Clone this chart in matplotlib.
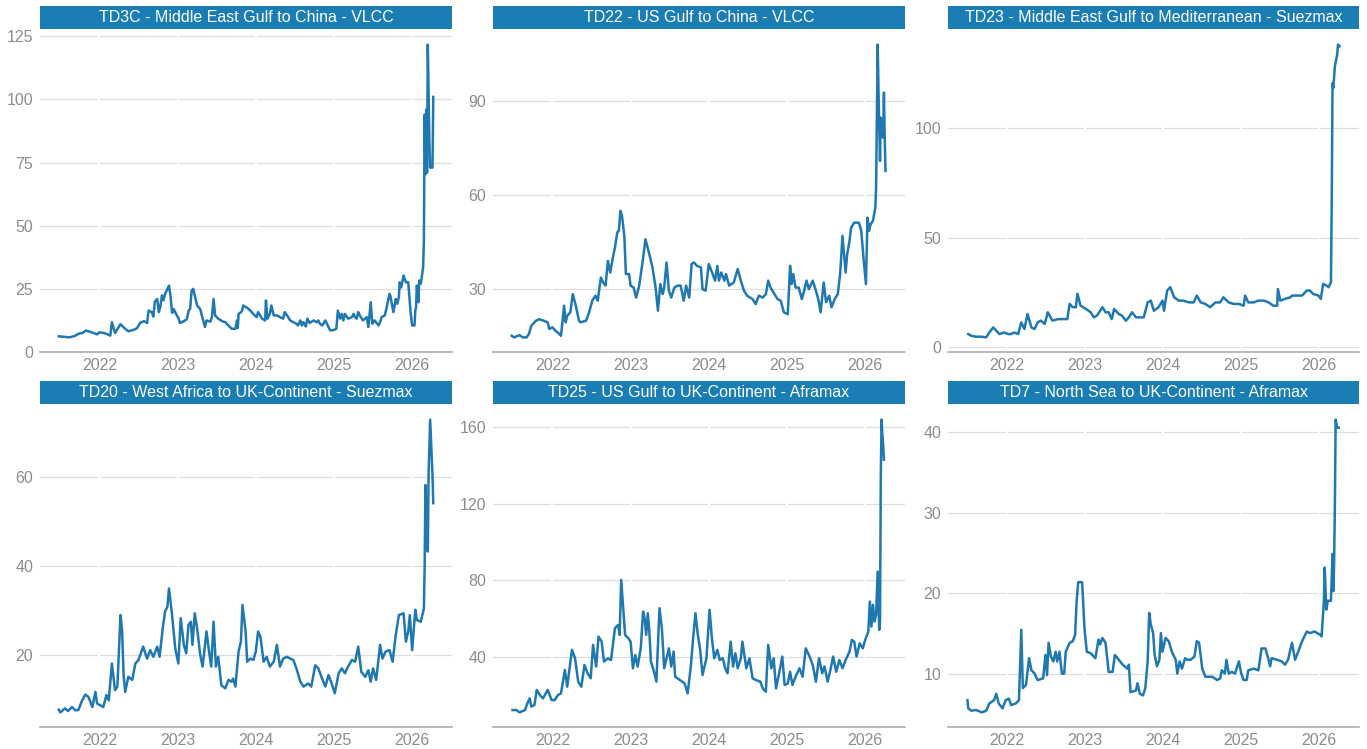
import matplotlib
matplotlib.use("Agg")
import matplotlib.pyplot as plt

plt.rcParams['font.family'] = ['Liberation Sans', 'DejaVu Sans']

titles = [
    "TD3C - Middle East Gulf to China - VLCC",
    "TD22 - US Gulf to China - VLCC",
    "TD23 - Middle East Gulf to Mediterranean - Suezmax",
    "TD20 - West Africa to UK-Continent - Suezmax",
    "TD25 - US Gulf to UK-Continent - Aframax",
    "TD7 - North Sea to UK-Continent - Aframax",
]

years = [2022, 2023, 2024, 2025, 2026]

td3c_t = [2021.48, 2021.55, 2021.62, 2021.68, 2021.74, 2021.78, 2021.83, 2021.9, 2021.97, 2022.0,
          2022.06, 2022.12, 2022.14, 2022.16, 2022.2, 2022.27, 2022.33, 2022.37, 2022.44, 2022.48,
          2022.52, 2022.57, 2022.61, 2022.63, 2022.67, 2022.69, 2022.71, 2022.74, 2022.76, 2022.78,
          2022.8, 2022.82, 2022.84, 2022.89, 2022.91, 2022.93, 2022.95, 2022.99, 2023.01, 2023.03,
          2023.08, 2023.12, 2023.14, 2023.16, 2023.18, 2023.2, 2023.25, 2023.29, 2023.31, 2023.35,
          2023.37, 2023.42, 2023.44, 2023.46, 2023.48, 2023.52, 2023.57, 2023.61, 2023.65, 2023.69,
          2023.74, 2023.76, 2023.77, 2023.78, 2023.82, 2023.84, 2023.89, 2023.93, 2023.97, 2024.01,
          2024.03, 2024.08, 2024.12, 2024.13, 2024.15, 2024.18, 2024.2, 2024.23, 2024.27, 2024.31,
          2024.35, 2024.37, 2024.4, 2024.44, 2024.48, 2024.52, 2024.54, 2024.57, 2024.59, 2024.61,
          2024.64, 2024.66, 2024.69, 2024.74, 2024.78, 2024.8, 2024.82, 2024.85, 2024.89, 2024.93,
          2024.95, 2024.99, 2025.03, 2025.05, 2025.08, 2025.1, 2025.12, 2025.14, 2025.18, 2025.23,
          2025.25, 2025.27, 2025.29, 2025.31, 2025.33, 2025.37, 2025.42, 2025.44, 2025.47, 2025.49,
          2025.52, 2025.57, 2025.59, 2025.61, 2025.65, 2025.67, 2025.71, 2025.72, 2025.76, 2025.79,
          2025.81, 2025.83, 2025.84, 2025.86, 2025.89, 2025.92, 2025.95, 2025.96, 2025.98, 2026.0,
          2026.03, 2026.04, 2026.05, 2026.06, 2026.08, 2026.09, 2026.11, 2026.12, 2026.14, 2026.15,
          2026.16, 2026.17, 2026.18, 2026.19, 2026.2, 2026.22, 2026.23, 2026.26, 2026.27]
td3c_v = [6.2, 6.0, 5.8, 6.3, 7.3, 7.5, 8.5, 7.8, 7.0, 7.8,
          7.5, 6.8, 6.5, 11.8, 7.5, 11.0, 9.2, 8.2, 8.8, 9.4,
          11.5, 12.2, 11.5, 16.4, 15.8, 14.0, 20.0, 21.0, 15.8, 18.0,
          22.4, 20.5, 23.0, 26.3, 22.0, 15.5, 17.0, 14.5, 13.5, 11.5,
          12.2, 13.0, 16.4, 17.0, 24.3, 25.0, 18.4, 17.0, 14.5, 9.9,
          12.5, 12.0, 14.0, 21.0, 14.5, 13.2, 12.2, 11.8, 10.5, 9.2,
          9.2, 12.5, 9.5, 15.1, 16.0, 18.4, 17.5, 16.4, 15.0, 13.8,
          15.8, 13.2, 12.5, 20.4, 13.2, 15.1, 18.4, 14.5, 14.5, 13.8,
          13.2, 15.8, 14.5, 12.5, 11.8, 11.2, 10.5, 12.5, 10.5, 11.8,
          10.1, 13.2, 11.5, 12.5, 11.8, 12.5, 11.2, 10.5, 12.5, 9.9,
          8.6, 8.6, 9.2, 16.4, 13.2, 15.1, 12.5, 15.1, 13.2, 13.8,
          15.1, 13.8, 13.2, 15.8, 14.5, 12.5, 13.8, 9.9, 19.7, 11.2,
          12.5, 10.5, 11.8, 13.8, 14.5, 17.1, 23.0, 22.4, 15.8, 21.0,
          19.1, 21.7, 27.6, 25.6, 30.3, 27.6, 27.6, 23.7, 15.8, 10.5,
          10.5, 16.4, 17.8, 26.3, 19.7, 28.3, 27.0, 29.0, 33.5, 44.0,
          94.0, 70.4, 96.0, 71.0, 121.7, 83.6, 73.0, 73.0, 101.0]

td22_t = [2021.48, 2021.51, 2021.58, 2021.62, 2021.67, 2021.7, 2021.73, 2021.79, 2021.83, 2021.89,
          2021.94, 2021.96, 2022.0, 2022.04, 2022.09, 2022.11, 2022.15, 2022.17, 2022.19, 2022.23,
          2022.26, 2022.3, 2022.34, 2022.36, 2022.43, 2022.47, 2022.51, 2022.55, 2022.58, 2022.62,
          2022.65, 2022.68, 2022.71, 2022.74, 2022.77, 2022.8, 2022.83, 2022.85, 2022.87, 2022.89,
          2022.92, 2022.94, 2022.98, 2023.0, 2023.04, 2023.07, 2023.11, 2023.15, 2023.19, 2023.24,
          2023.28, 2023.32, 2023.35, 2023.38, 2023.41, 2023.43, 2023.46, 2023.49, 2023.52, 2023.56,
          2023.6, 2023.64, 2023.68, 2023.71, 2023.75, 2023.78, 2023.81, 2023.85, 2023.9, 2023.92,
          2023.96, 2024.0, 2024.05, 2024.08, 2024.11, 2024.13, 2024.16, 2024.2, 2024.22, 2024.26,
          2024.32, 2024.37, 2024.41, 2024.45, 2024.49, 2024.56, 2024.6, 2024.64, 2024.69, 2024.73,
          2024.76, 2024.79, 2024.84, 2024.88, 2024.92, 2024.96, 2025.01, 2025.04, 2025.06, 2025.08,
          2025.11, 2025.15, 2025.19, 2025.22, 2025.25, 2025.28, 2025.33, 2025.37, 2025.4, 2025.43,
          2025.47, 2025.5, 2025.54, 2025.57, 2025.61, 2025.65, 2025.68, 2025.71, 2025.75, 2025.77,
          2025.8, 2025.82, 2025.86, 2025.92, 2025.95, 2025.98, 2026.01, 2026.03, 2026.05, 2026.07,
          2026.1, 2026.13, 2026.14, 2026.155, 2026.16, 2026.175, 2026.19, 2026.2, 2026.21, 2026.23,
          2026.24, 2026.25, 2026.26]
td22_v = [15.1, 14.6, 15.3, 14.6, 14.6, 15.7, 18.3, 19.9, 20.4, 19.9,
          19.4, 17.3, 17.8, 16.7, 15.7, 15.1, 24.7, 19.4, 21.5, 22.6,
          28.4, 24.7, 19.9, 19.4, 19.9, 22.6, 26.3, 27.9, 26.3, 33.7,
          32.1, 31.1, 39.0, 35.3, 39.6, 43.3, 48.1, 48.6, 55.0, 53.4,
          47.0, 34.8, 34.8, 31.1, 30.5, 27.3, 31.1, 38.0, 45.9, 41.1,
          36.9, 30.5, 23.1, 31.6, 28.4, 30.5, 38.5, 29.5, 27.3, 30.5,
          31.1, 31.1, 26.3, 31.1, 27.3, 38.0, 38.5, 37.4, 36.9, 30.0,
          29.5, 38.0, 34.8, 32.7, 37.4, 32.7, 35.3, 32.7, 34.8, 31.1,
          32.1, 36.4, 32.7, 29.5, 27.9, 26.8, 25.2, 27.9, 27.3, 28.4,
          32.7, 30.5, 28.4, 26.8, 26.3, 22.6, 22.0, 37.4, 31.6, 34.8,
          30.5, 30.5, 26.8, 29.5, 32.7, 30.0, 32.7, 29.5, 26.8, 22.6,
          32.1, 25.8, 27.9, 24.2, 26.8, 28.4, 34.8, 47.0, 35.3, 41.1,
          45.4, 49.6, 51.2, 51.2, 48.6, 39.6, 31.6, 52.8, 48.6, 50.7,
          51.8, 56.0, 62.4, 95.3, 108.0, 88.0, 70.9, 84.7, 81.5, 78.3,
          92.7, 78.3, 67.7]

td23_t = [2021.5, 2021.54, 2021.6, 2021.67, 2021.73, 2021.77, 2021.82, 2021.86, 2021.9, 2021.96,
          2022.01, 2022.05, 2022.09, 2022.14, 2022.18, 2022.22, 2022.26, 2022.31, 2022.35, 2022.39,
          2022.43, 2022.48, 2022.52, 2022.58, 2022.65, 2022.73, 2022.77, 2022.8, 2022.84, 2022.88,
          2022.9, 2022.94, 2023.01, 2023.07, 2023.11, 2023.15, 2023.22, 2023.26, 2023.3, 2023.34,
          2023.37, 2023.43, 2023.47, 2023.52, 2023.56, 2023.6, 2023.65, 2023.71, 2023.75, 2023.8,
          2023.84, 2023.88, 2023.94, 2023.99, 2024.01, 2024.05, 2024.09, 2024.14, 2024.2, 2024.26,
          2024.33, 2024.39, 2024.43, 2024.48, 2024.54, 2024.6, 2024.67, 2024.73, 2024.77, 2024.84,
          2024.9, 2024.97, 2025.03, 2025.05, 2025.09, 2025.16, 2025.22, 2025.29, 2025.35, 2025.41,
          2025.46, 2025.47, 2025.5, 2025.56, 2025.63, 2025.65, 2025.71, 2025.78, 2025.84, 2025.88,
          2025.92, 2025.99, 2026.02, 2026.05, 2026.09, 2026.12, 2026.15, 2026.16, 2026.17, 2026.18,
          2026.2, 2026.23, 2026.24, 2026.26]
td23_v = [6.1, 5.3, 4.9, 4.9, 4.6, 6.8, 9.1, 7.6, 6.1, 6.8,
          6.1, 6.1, 6.8, 6.1, 11.4, 8.4, 15.2, 9.1, 8.4, 11.4,
          12.2, 10.7, 16.0, 12.2, 12.9, 12.9, 12.9, 19.8, 18.3, 18.3,
          24.4, 19.0, 17.5, 16.0, 13.7, 14.5, 18.3, 16.0, 16.0, 12.9,
          17.5, 15.2, 14.5, 12.2, 13.7, 16.0, 13.7, 13.7, 13.7, 20.5,
          21.3, 16.7, 18.3, 21.3, 16.7, 25.9, 27.4, 22.8, 21.3, 21.3,
          20.5, 20.5, 23.6, 20.5, 19.8, 18.3, 20.5, 20.5, 22.8, 20.5,
          19.8, 19.8, 19.0, 23.6, 20.5, 20.5, 21.3, 21.3, 20.5, 19.0,
          19.0, 26.6, 21.3, 22.1, 22.8, 23.6, 23.6, 23.6, 25.9, 25.9,
          24.4, 23.6, 22.1, 28.9, 28.2, 27.4, 29.7, 67.0, 120.2, 118.0,
          127.8, 133.2, 137.7, 137.0]

td20_t = [2021.48, 2021.5, 2021.56, 2021.6, 2021.65, 2021.69, 2021.73, 2021.78, 2021.82, 2021.86,
          2021.91, 2021.95, 2021.97, 2022.01, 2022.05, 2022.09, 2022.12, 2022.16, 2022.2, 2022.23,
          2022.27, 2022.29, 2022.31, 2022.33, 2022.37, 2022.42, 2022.46, 2022.5, 2022.56, 2022.61,
          2022.65, 2022.69, 2022.74, 2022.77, 2022.81, 2022.84, 2022.87, 2022.89, 2022.93, 2022.97,
          2023.01, 2023.04, 2023.08, 2023.11, 2023.14, 2023.17, 2023.19, 2023.22, 2023.25, 2023.29,
          2023.32, 2023.37, 2023.4, 2023.43, 2023.46, 2023.49, 2023.52, 2023.56, 2023.61, 2023.65,
          2023.69, 2023.71, 2023.74, 2023.78, 2023.81, 2023.83, 2023.87, 2023.89, 2023.93, 2023.97,
          2024.0, 2024.03, 2024.06, 2024.1, 2024.14, 2024.18, 2024.23, 2024.27, 2024.31, 2024.35,
          2024.4, 2024.44, 2024.48, 2024.52, 2024.57, 2024.61, 2024.67, 2024.71, 2024.76, 2024.8,
          2024.84, 2024.89, 2024.93, 2024.97, 2025.01, 2025.06, 2025.1, 2025.14, 2025.18, 2025.23,
          2025.27, 2025.31, 2025.35, 2025.4, 2025.44, 2025.47, 2025.5, 2025.54, 2025.59, 2025.62,
          2025.66, 2025.71, 2025.75, 2025.79, 2025.83, 2025.89, 2025.92, 2025.95, 2025.97, 2026.0,
          2026.04, 2026.06, 2026.11, 2026.15, 2026.16, 2026.17, 2026.18, 2026.2, 2026.21, 2026.23,
          2026.26, 2026.27]
td20_v = [7.7, 7.1, 8.0, 7.4, 8.3, 7.6, 7.6, 9.8, 11.1, 10.6,
          8.3, 11.7, 9.1, 8.7, 8.3, 11.0, 9.8, 18.1, 12.1, 12.9,
          29.0, 25.6, 15.5, 11.7, 15.1, 14.4, 18.1, 18.9, 21.9, 19.2,
          21.1, 19.6, 21.9, 19.6, 26.0, 29.8, 30.9, 35.0, 29.0, 21.5,
          18.1, 28.3, 22.3, 20.4, 26.8, 27.5, 22.3, 29.4, 26.0, 20.0,
          17.4, 25.3, 21.1, 17.4, 27.5, 17.4, 19.6, 13.2, 12.5, 14.4,
          14.0, 14.7, 12.9, 20.8, 23.0, 31.3, 25.3, 18.5, 19.2, 18.9,
          20.8, 25.3, 24.1, 18.5, 19.6, 17.4, 18.5, 22.3, 17.4, 19.2,
          19.6, 19.2, 18.9, 17.0, 14.0, 12.9, 13.6, 12.9, 17.7, 17.0,
          15.1, 12.9, 15.5, 13.6, 11.4, 15.9, 17.0, 15.9, 17.4, 18.9,
          18.5, 21.9, 16.2, 15.1, 16.6, 14.0, 17.0, 14.4, 22.3, 19.2,
          20.8, 21.1, 18.5, 24.5, 29.0, 29.4, 23.0, 25.3, 29.0, 21.1,
          30.2, 27.9, 27.5, 30.5, 40.3, 58.3, 50.8, 43.3, 60.6, 73.0,
          60.6, 54.2]

td25_t = [2021.49, 2021.54, 2021.58, 2021.65, 2021.68, 2021.71, 2021.73, 2021.77, 2021.8, 2021.84,
          2021.88, 2021.94, 2021.99, 2022.03, 2022.07, 2022.11, 2022.16, 2022.19, 2022.22, 2022.25,
          2022.29, 2022.33, 2022.37, 2022.41, 2022.45, 2022.49, 2022.52, 2022.56, 2022.59, 2022.63,
          2022.66, 2022.71, 2022.75, 2022.8, 2022.84, 2022.86, 2022.88, 2022.9, 2022.93, 2022.97,
          2023.0, 2023.03, 2023.06, 2023.09, 2023.13, 2023.16, 2023.18, 2023.2, 2023.22, 2023.24,
          2023.26, 2023.3, 2023.33, 2023.37, 2023.4, 2023.43, 2023.46, 2023.49, 2023.52, 2023.55,
          2023.57, 2023.63, 2023.69, 2023.73, 2023.77, 2023.8, 2023.83, 2023.86, 2023.89, 2023.92,
          2023.97, 2024.01, 2024.04, 2024.07, 2024.11, 2024.14, 2024.18, 2024.21, 2024.24, 2024.28,
          2024.31, 2024.34, 2024.37, 2024.41, 2024.43, 2024.48, 2024.52, 2024.56, 2024.6, 2024.66,
          2024.69, 2024.73, 2024.76, 2024.8, 2024.83, 2024.86, 2024.9, 2024.94, 2024.97, 2025.01,
          2025.04, 2025.07, 2025.11, 2025.16, 2025.2, 2025.24, 2025.29, 2025.33, 2025.37, 2025.41,
          2025.45, 2025.48, 2025.52, 2025.56, 2025.59, 2025.63, 2025.67, 2025.71, 2025.75, 2025.8,
          2025.83, 2025.86, 2025.89, 2025.93, 2025.97, 2026.0, 2026.04, 2026.06, 2026.08, 2026.1,
          2026.12, 2026.14, 2026.16, 2026.18, 2026.19, 2026.2, 2026.21, 2026.22, 2026.23, 2026.24]
td25_v = [12.3, 12.3, 11.1, 12.3, 15.8, 18.4, 14.1, 14.9, 22.8, 20.1,
          18.4, 22.8, 17.5, 17.5, 20.1, 21.0, 33.2, 24.5, 34.1, 43.7,
          39.3, 27.1, 24.5, 35.8, 31.5, 28.9, 46.3, 35.0, 50.6, 48.0,
          37.6, 39.3, 38.4, 55.0, 56.7, 51.5, 80.2, 68.9, 51.5, 49.8,
          48.0, 34.1, 41.0, 35.0, 44.5, 63.7, 60.2, 51.5, 62.8, 53.2,
          37.6, 32.3, 27.1, 65.4, 55.0, 34.1, 39.3, 44.5, 35.0, 42.8,
          29.7, 28.0, 26.2, 21.0, 35.0, 49.8, 62.8, 51.5, 43.7, 30.6,
          39.3, 64.6, 49.8, 39.3, 43.7, 38.4, 39.3, 34.1, 31.5, 48.0,
          35.0, 41.9, 34.1, 39.3, 48.0, 34.1, 39.3, 28.9, 28.0, 27.1,
          23.6, 21.9, 46.3, 34.1, 39.3, 23.6, 31.5, 40.2, 25.4, 26.2,
          32.3, 25.4, 29.7, 34.1, 29.7, 44.5, 40.2, 35.8, 27.1, 39.3,
          31.5, 35.0, 27.1, 34.1, 40.2, 32.3, 38.4, 34.1, 38.4, 42.8,
          48.9, 48.0, 40.2, 47.1, 44.5, 48.9, 53.2, 68.9, 55.8, 67.2,
          58.5, 62.0, 84.6, 54.1, 58.5, 135.0, 163.8, 156.0, 150.8, 142.9]

td7_t = [2021.49, 2021.5, 2021.54, 2021.6, 2021.67, 2021.73, 2021.77, 2021.83, 2021.86, 2021.89,
         2021.94, 2021.98, 2022.02, 2022.05, 2022.11, 2022.15, 2022.18, 2022.2, 2022.24, 2022.28,
         2022.31, 2022.35, 2022.39, 2022.46, 2022.49, 2022.51, 2022.53, 2022.56, 2022.59, 2022.62,
         2022.64, 2022.67, 2022.7, 2022.73, 2022.75, 2022.8, 2022.84, 2022.87, 2022.89, 2022.91,
         2022.96, 2022.99, 2023.02, 2023.07, 2023.13, 2023.17, 2023.19, 2023.22, 2023.26, 2023.3,
         2023.35, 2023.38, 2023.43, 2023.48, 2023.54, 2023.56, 2023.58, 2023.65, 2023.67, 2023.7,
         2023.74, 2023.77, 2023.8, 2023.82, 2023.84, 2023.87, 2023.89, 2023.92, 2023.95, 2023.97,
         2023.99, 2024.03, 2024.07, 2024.11, 2024.16, 2024.18, 2024.21, 2024.24, 2024.28, 2024.31,
         2024.35, 2024.4, 2024.43, 2024.46, 2024.5, 2024.54, 2024.63, 2024.69, 2024.73, 2024.75,
         2024.79, 2024.81, 2024.84, 2024.88, 2024.92, 2024.97, 2025.0, 2025.03, 2025.07, 2025.09,
         2025.16, 2025.22, 2025.26, 2025.31, 2025.35, 2025.37, 2025.39, 2025.46, 2025.52, 2025.56,
         2025.6, 2025.65, 2025.69, 2025.73, 2025.78, 2025.84, 2025.88, 2025.94, 2026.01, 2026.03,
         2026.06, 2026.07, 2026.09, 2026.11, 2026.15, 2026.17, 2026.18, 2026.19, 2026.2, 2026.21,
         2026.23, 2026.25]
td7_v = [6.8, 5.8, 5.5, 5.6, 5.3, 5.5, 6.4, 6.8, 7.6, 6.4,
         5.8, 6.8, 7.0, 6.2, 6.4, 6.8, 15.5, 8.3, 8.7, 12.0,
         10.5, 10.1, 9.3, 9.5, 12.4, 9.9, 13.9, 12.2, 11.6, 12.8,
         11.6, 12.8, 10.1, 10.1, 12.8, 13.9, 14.1, 14.9, 19.1, 21.4,
         21.4, 15.7, 12.8, 12.6, 12.0, 14.3, 13.7, 14.5, 13.9, 10.3,
         10.3, 12.4, 11.8, 11.2, 10.7, 11.2, 7.8, 8.0, 8.9, 7.6,
         7.4, 8.3, 11.6, 17.6, 16.2, 15.1, 12.4, 11.0, 11.8, 15.1,
         12.8, 14.5, 14.1, 12.8, 11.8, 10.1, 11.6, 10.7, 12.0, 11.8,
         11.8, 12.2, 14.1, 13.9, 10.7, 9.7, 9.7, 9.3, 9.5, 10.5,
         10.1, 11.8, 10.1, 10.3, 10.1, 11.6, 10.1, 9.3, 9.3, 10.5,
         10.7, 10.5, 13.2, 13.2, 11.8, 11.0, 12.0, 11.8, 11.6, 11.2,
         11.8, 13.9, 11.8, 12.8, 14.1, 15.3, 15.1, 15.3, 14.9, 14.7,
         19.1, 23.2, 18.0, 19.1, 19.1, 24.9, 20.3, 23.6, 30.7, 41.5,
         40.5, 40.5]

series_t = [td3c_t, td22_t, td23_t, td20_t, td25_t, td7_t]
series_v = [td3c_v, td22_v, td23_v, td20_v, td25_v, td7_v]
yticks = [[0, 25, 50, 75, 100, 125], [30, 60, 90], [0, 50, 100],
          [20, 40, 60], [40, 80, 120, 160], [10, 20, 30, 40]]

W, H = 1367, 749
fig = plt.figure(figsize=(W / 100, H / 100), dpi=100)
fig.patch.set_facecolor('white')

col_x = [(40, 452), (493, 905), (948, 1359)]
row_y = [(30, 352), (405, 727)]
strip_h = 23

line_col = '#1f78b0'
strip_col = '#1a7db3'
grey_txt = '#8c8c8c'

axes = []
for i in range(6):
    r, c = divmod(i, 3)
    x0, x1 = col_x[c]
    y0, y1 = row_y[r]
    rect = [x0 / W, 1 - y1 / H, (x1 - x0) / W, (y1 - y0) / H]
    if axes:
        ax = fig.add_axes(rect, sharex=axes[0])
    else:
        ax = fig.add_axes(rect)
    axes.append(ax)
    ax.plot(series_t[i], series_v[i], color=line_col, lw=1.8, zorder=3, solid_joinstyle='round')
    ax.margins(x=0.05, y=0.05)
    ax.set_yticks(yticks[i])
    ax.set_xticks(years)
    ax.set_xticklabels([str(y) for y in years])
    ax.grid(axis='y', color='#dedede', lw=0.9, zorder=0)
    ax.set_axisbelow(True)
    for y in years:
        ax.axvline(y, color='white', lw=1.6, zorder=1)
    for s in ['top', 'right', 'left']:
        ax.spines[s].set_visible(False)
    ax.spines['bottom'].set_color('#a5a5a5')
    ax.spines['bottom'].set_linewidth(1.1)
    ax.tick_params(length=0, labelsize=11.5, labelcolor=grey_txt, pad=4)
    ax.tick_params(axis='y', pad=5)
    ax.set_facecolor('white')

    srect = [x0 / W, 1 - (y0 - 1) / H, (x1 - x0) / W, strip_h / H]
    sax = fig.add_axes(srect)
    sax.set_facecolor(strip_col)
    sax.set_xticks([])
    sax.set_yticks([])
    for s in sax.spines.values():
        s.set_visible(False)
    sax.text(0.5, 0.5, titles[i], color='white', fontsize=11.5, ha='center', va='center',
             transform=sax.transAxes)

fig.savefig('out.png', dpi=100)
